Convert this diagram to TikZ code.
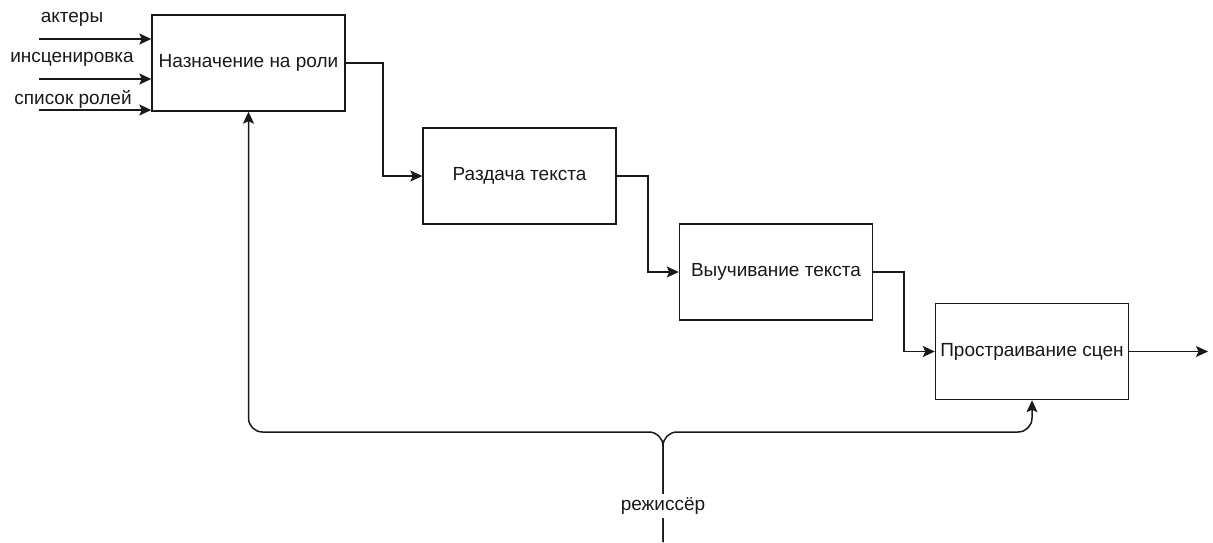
\documentclass[tikz,border=0pt]{standalone}
\usepackage{fontspec}
\setmainfont{Liberation Sans}
\usetikzlibrary{arrows.meta}
\begin{document}
\begin{tikzpicture}[x=1pt,y=-1pt,
  every node/.style={font=\fontsize{19}{22}\selectfont, text=black!90},
  proc/.style={draw=black!90, line width=1.4pt, fill=white,
    minimum width=193pt, minimum height=96pt, inner sep=0pt},
  flow/.style={draw=black!90, line width=1.5pt,
    -{Stealth[length=12pt,width=11pt,inset=2.5pt]}},
  lbl/.style={inner sep=1pt}]
\useasboundingbox (0,0) rectangle (1213,542);

% processes
\node[proc] (p1) at (248.5,63) {Назначение на роли};
\node[proc] (p2) at (519.5,176) {Раздача текста};
\node[proc] (p3) at (776,272) {Выучивание текста};
\node[proc] (p4) at (1032,351.5) {Простраивание сцен};

% inputs
\node[lbl] (l1) at (72,19) {актеры};
\node[lbl] (l2) at (72,59) {инсценировка};
\node[lbl] (l3) at (73,99) {список ролей};
\coordinate (i1) at (39,39);
\coordinate (i2) at (39,79);
\coordinate (i3) at (39,110);
\draw[flow] (i1) -- (p1.west |- i1);
\draw[flow] (i2) -- (p1.west |- i2);
\draw[flow] (i3) -- (p1.west |- i3);

% sequence between processes
\draw[flow] (p1.east) -- (383,63) |- (p2.west);
\draw[flow] (p2.east) -- (648,176) |- (p3.west);
\draw[flow] (p3.east) -- (904,272) |- (p4.west);
\coordinate (out) at (1208,351.5);
\draw[flow] (p4.east) -- (out);

% control
\coordinate (ctl) at (663,542);
\coordinate (split) at (663,432);
\draw[flow, rounded corners=14pt] (ctl) -- (split) -- (p1.south |- split) -- (p1.south);
\draw[flow, rounded corners=14pt] (ctl) -- (split) -- (p4.south |- split) -- (p4.south);
\node[lbl, fill=white, inner xsep=2pt, inner ysep=4pt] (dir) at (663,506) {режиссёр};
\end{tikzpicture}
\end{document}
